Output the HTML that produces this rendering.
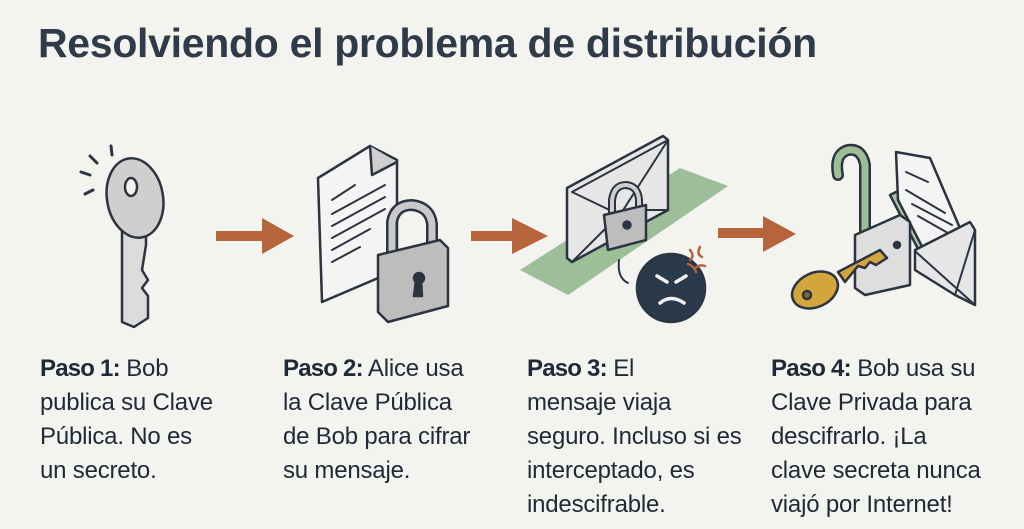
<!DOCTYPE html>
<html><head><meta charset="utf-8"><style>
body{margin:0;width:1024px;height:529px;background:#f3f3ef;overflow:hidden;font-family:"Liberation Sans",sans-serif;color:#1f2a36}
h1{position:absolute;left:38px;top:20px;margin:0;font-size:41px;font-weight:bold;color:#2f3b48;letter-spacing:-0.3px}
.t{position:absolute;top:352px;font-size:24px;line-height:34px;color:#1f2a36;letter-spacing:-0.2px;white-space:nowrap}
.t b{font-weight:bold;letter-spacing:-0.8px}
svg{position:absolute;left:0;top:0}
</style></head><body>
<h1>Resolviendo el problema de distribución</h1>
<svg width="1024" height="529" stroke="#2b3440" stroke-width="2.5" stroke-linejoin="round" stroke-linecap="round">
<g stroke-width="3"><line x1="90" y1="156" x2="97" y2="163"/><line x1="111" y1="146" x2="112" y2="155"/><line x1="81" y1="172" x2="90" y2="175"/><line x1="85" y1="194" x2="93" y2="190"/></g>
<path d="M122 230 L122 322 L134 327 L148 318 L148 296 L142 288 L148 280 L142 270 L146 245 L146 230 Z" fill="#dcdcdc"/>
<ellipse cx="135" cy="198" rx="28" ry="40" fill="#cfcfcf" transform="rotate(-10 135 198)"/>
<ellipse cx="131" cy="187" rx="6" ry="9" fill="#f3f3ef"/>
<g fill="#b6643c" stroke="none">
<rect x="216" y="231" width="50" height="10"/><polygon points="262,218 294,236 262,254"/>
<rect x="471" y="231" width="50" height="10"/><polygon points="512,218 548,236 512,254"/>
<rect x="718" y="228" width="50" height="10"/><polygon points="763,216 796,234 763,252"/>
<polygon points="360,246 382,236 374,260"/><rect x="368" y="243" width="30" height="8" transform="rotate(35 370 247)"/>
</g>
<path d="M318 178 L370 146 L397 160 L397 270 L322 302 Z" fill="#f4f4f4"/>
<path d="M370 146 L372 175 L397 162" fill="#cfcfcf"/>
<g stroke-width="2"><line x1="332" y1="200" x2="355" y2="185"/><line x1="332" y1="214" x2="385" y2="185"/><line x1="332" y1="226" x2="385" y2="197"/><line x1="332" y1="238" x2="385" y2="209"/><line x1="332" y1="250" x2="370" y2="229"/><line x1="332" y1="262" x2="360" y2="247"/></g>
<path d="M392 252 L392 222 Q395 205 412 205 Q430 207 432 224 L432 248" fill="none" stroke-width="12" stroke="#2b3440"/>
<path d="M392 252 L392 222 Q395 205 412 205 Q430 207 432 224 L432 248" fill="none" stroke-width="7" stroke="#c9c9c9"/>
<path d="M378 255 L440 240 L448 248 L448 306 L388 322 L378 312 Z" fill="#bdbdbd"/>
<circle cx="419" cy="278" r="5" fill="#2b3440"/><path d="M416 280 L414 296 L422 296 L421 280Z" fill="#2b3440"/>
<polygon points="520,270 680,168 728,186 568,295" fill="#9cbf98" stroke="none"/>
<path d="M567 188 L663 136 L668 140 L668 210 L572 262 L567 258 Z" fill="#e6e6e6"/>
<path d="M572 192 L668 140 M572 192 L620 215 L668 140 M572 262 L612 222 M668 210 L630 210" fill="none" stroke-width="2"/>
<path d="M612 218 L612 200 Q614 185 626 185 Q638 186 639 200 L639 212" fill="none" stroke-width="8"/>
<path d="M612 218 L612 200 Q614 185 626 185 Q638 186 639 200 L639 212" fill="none" stroke-width="4" stroke="#cfcfcf"/>
<path d="M604 215 L646 205 L646 240 L608 250 Z" fill="#bdbdbd"/>
<circle cx="627" cy="225" r="3.5" fill="#2b3440"/>
<path d="M619 260 Q617 278 628 283" fill="none" stroke-width="2"/>
<circle cx="671" cy="288" r="34" fill="#2b3a4a"/>
<g stroke="#f3f3f3" stroke-width="3.5"><line x1="657" y1="276" x2="667" y2="282"/><line x1="686" y1="276" x2="676" y2="282"/><path d="M660 303 Q671 294 684 303" fill="none"/></g>
<g stroke="#b6643c" stroke-width="2.5" fill="none"><path d="M690 250 q5 6 0 10"/><path d="M700 247 q-4 7 2 10"/><path d="M695 268 q5-4 10-2"/><path d="M688 264 q6 2 8 8"/></g>
<path d="M865 265 L865 165 Q862 148 848 150 Q834 154 838 175" fill="none" stroke-width="12"/>
<path d="M865 265 L865 165 Q862 148 848 150 Q834 154 838 175" fill="none" stroke-width="7" stroke="#9dbf98"/>
<path d="M890 195 L930 175 L962 262 L930 272 Z" fill="#a8c6a4"/>
<path d="M896 152 L930 158 L965 240 L930 262 L898 200 Z" fill="#f4f4f4"/>
<g stroke-width="2"><line x1="906" y1="172" x2="928" y2="182"/><line x1="906" y1="190" x2="945" y2="213"/><line x1="912" y1="204" x2="952" y2="225"/><line x1="918" y1="216" x2="955" y2="237"/></g>
<path d="M915 250 L970 222 L975 230 L975 305 L955 295 L915 270 Z" fill="#e6e6e6"/>
<path d="M916 252 L975 305 M955 295 L975 230" fill="none" stroke-width="2"/>
<path d="M855 235 L900 215 L910 222 L910 285 L865 295 L855 288 Z" fill="#dedede"/>
<circle cx="897" cy="245" r="3" fill="#2b3440"/>
<path d="M838 272 L880 250 L887 258 L876 265 L870 262 L865 268 L858 266 L845 282 Z" fill="#d2a63a"/>
<ellipse cx="815" cy="290" rx="24" ry="17" fill="#d2a63a" transform="rotate(-25 815 290)"/>
<circle cx="807" cy="295" r="4" fill="#7a6a3a"/>
</svg>
<div class="t" style="left:40px"><b>Paso 1:</b> Bob<br>publica su Clave<br>Pública. No es<br>un secreto.</div>
<div class="t" style="left:283px"><b>Paso 2:</b> Alice usa<br>la Clave Pública<br>de Bob para cifrar<br>su mensaje.</div>
<div class="t" style="left:527px"><b>Paso 3:</b> El<br>mensaje viaja<br>seguro. Incluso si es<br>interceptado, es<br>indescifrable.</div>
<div class="t" style="left:771px"><b>Paso 4:</b> Bob usa su<br>Clave Privada para<br>descifrarlo. ¡La<br>clave secreta nunca<br>viajó por Internet!</div>
</body></html>
